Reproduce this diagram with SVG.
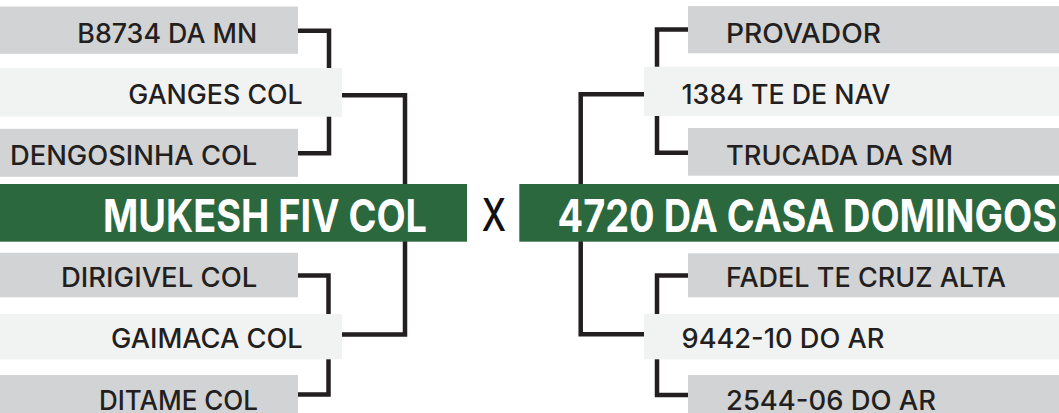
<svg xmlns="http://www.w3.org/2000/svg" width="1059" height="413" viewBox="0 0 1059 413">
<style>
.gray{fill:#d1d3d4}
.light{fill:#f1f2f2}
.green{fill:#2c683d}
.lbl{font-family:Inter,Roboto,"Liberation Sans",sans-serif;font-size:27px;font-weight:500;fill:#231f20}
.big{font-family:Inter,Roboto,"Liberation Sans",sans-serif;font-size:45px;font-weight:700;fill:#ffffff}
.vs{font-family:Inter,Roboto,"Liberation Sans",sans-serif;font-size:45px;font-weight:500;fill:#111111}
.wire{fill:none;stroke:#231f20;stroke-width:4.5;stroke-linejoin:miter;stroke-linecap:butt}
</style>
<rect width="1059" height="413" fill="#ffffff"/>
<g id="connectors">
<path class="wire" d="M290,30.7 H329 V153.3 H290"/>
<path class="wire" d="M330,95.3 H405 V334.5 H330"/>
<path class="wire" d="M290,275.5 H328.5 V394.5 H290"/>
<path class="wire" d="M700,29.5 H657 V152.8 H700"/>
<path class="wire" d="M650,94.3 H580.7 V334.2 H650"/>
<path class="wire" d="M700,275.5 H657 V395 H700"/>
</g>
<g id="b8734">
<rect class="gray" x="0" y="6.5" width="298" height="47.3"/>
<text class="lbl" x="77.3" y="43" textLength="180" lengthAdjust="spacingAndGlyphs">B8734 DA MN</text>
</g>
<g id="ganges">
<rect class="light" x="0" y="68" width="342" height="48.7"/>
<text class="lbl" x="128.3" y="103.5" textLength="174.4" lengthAdjust="spacingAndGlyphs">GANGES COL</text>
</g>
<g id="dengosinha">
<rect class="gray" x="0" y="128.8" width="298" height="48"/>
<text class="lbl" x="10" y="165" textLength="247.3" lengthAdjust="spacingAndGlyphs">DENGOSINHA COL</text>
</g>
<g id="mukesh">
<rect class="green" x="0" y="184" width="467" height="57.7"/>
<text class="big" x="103" y="231.5" textLength="324" lengthAdjust="spacingAndGlyphs">MUKESH FIV COL</text>
</g>
<g id="dirigivel">
<rect class="gray" x="0" y="252.8" width="298" height="44.5"/>
<text class="lbl" x="61" y="287" textLength="196.3" lengthAdjust="spacingAndGlyphs">DIRIGIVEL COL</text>
</g>
<g id="gaimaca">
<rect class="light" x="0" y="314" width="342" height="45.3"/>
<text class="lbl" x="111" y="348" textLength="191.7" lengthAdjust="spacingAndGlyphs">GAIMACA COL</text>
</g>
<g id="ditame">
<rect class="gray" x="0" y="375" width="298" height="45"/>
<text class="lbl" x="99" y="410" textLength="159" lengthAdjust="spacingAndGlyphs">DITAME COL</text>
</g>
<g id="versus">
<text class="vs" x="481.7" y="231" textLength="24.3" lengthAdjust="spacingAndGlyphs">X</text>
</g>
<g id="provador">
<rect class="gray" x="688" y="6" width="371" height="47.3"/>
<text class="lbl" x="726" y="43" textLength="155" lengthAdjust="spacingAndGlyphs">PROVADOR</text>
</g>
<g id="te1384">
<rect class="light" x="644" y="66.7" width="415" height="49.3"/>
<text class="lbl" x="681.5" y="103.5" textLength="209" lengthAdjust="spacingAndGlyphs">1384 TE DE NAV</text>
</g>
<g id="trucada">
<rect class="gray" x="688" y="128" width="371" height="47.7"/>
<text class="lbl" x="726" y="165" textLength="227" lengthAdjust="spacingAndGlyphs">TRUCADA DA SM</text>
</g>
<g id="casadomingos">
<rect class="green" x="519.3" y="184" width="540" height="57.7"/>
<text class="big" x="557.5" y="231.5" textLength="499.5" lengthAdjust="spacingAndGlyphs">4720 DA CASA DOMINGOS</text>
</g>
<g id="fadel">
<rect class="gray" x="688" y="253.3" width="371" height="44"/>
<text class="lbl" x="726" y="287" textLength="280" lengthAdjust="spacingAndGlyphs">FADEL TE CRUZ ALTA</text>
</g>
<g id="ar9442">
<rect class="light" x="644" y="314" width="415" height="45.3"/>
<text class="lbl" x="681.5" y="348" textLength="203" lengthAdjust="spacingAndGlyphs">9442-10 DO AR</text>
</g>
<g id="ar2544">
<rect class="gray" x="688" y="375" width="371" height="45"/>
<text class="lbl" x="726" y="410" textLength="210" lengthAdjust="spacingAndGlyphs">2544-06 DO AR</text>
</g>
</svg>
